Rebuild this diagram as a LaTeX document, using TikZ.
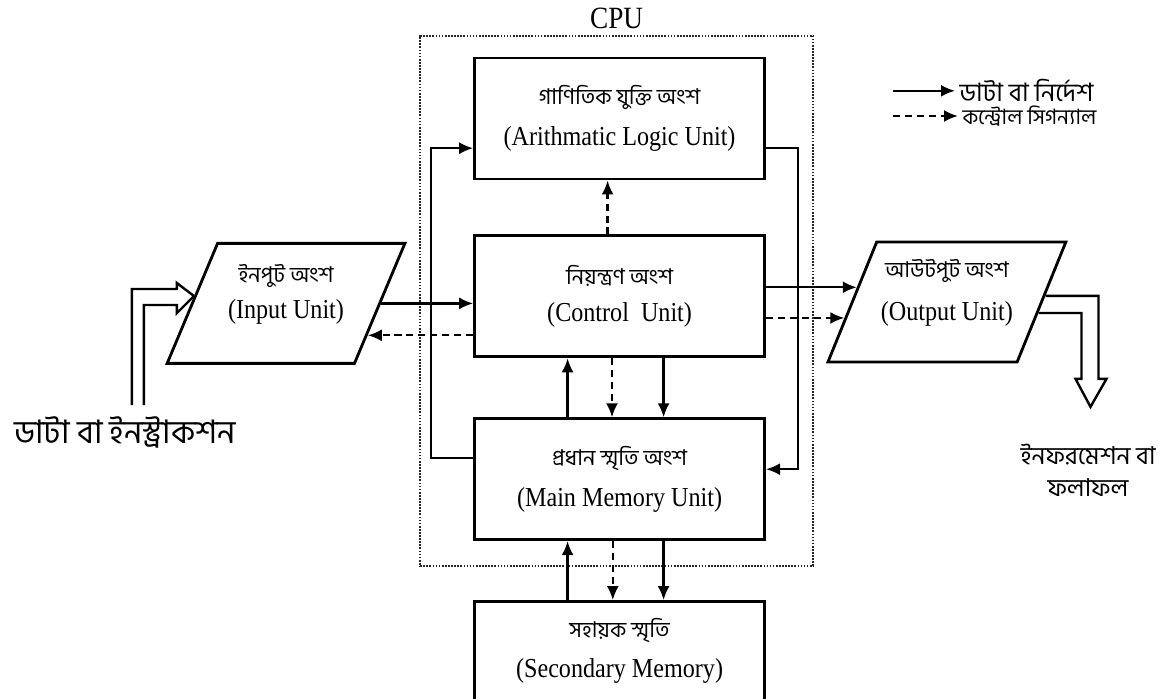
\documentclass[tikz,border=0pt]{standalone}
\usepackage{fontspec}
\setmainfont{Liberation Serif}[FakeStretch=0.88]
\newfontfamily\bn[Script=Bengali]{Hind Siliguri}
\usepackage{tikz}
\usetikzlibrary{shapes.geometric, arrows.meta, positioning, fit, calc}

\begin{document}
\begin{tikzpicture}[
  node distance=1.475cm and 2.4cm,
  box/.style={rectangle, draw=black, line width=2pt, minimum width=7.25cm,
             minimum height=3.025cm, align=center, inner sep=4pt,
             font=\fontsize{19.5}{22}\selectfont},
  iobox/.style={trapezium, trapezium left angle=62, trapezium right angle=118,
             trapezium stretches=true, draw=black, line width=2pt,
             minimum width=5.95cm, minimum height=3.0cm, align=center, inner sep=2pt,
             text depth=0.6cm, font=\fontsize{19.5}{22}\selectfont},
  cpubox/.style={draw=black!85, densely dotted, line width=1.2pt, inner sep=0pt},
  dataarrow/.style={-{Latex[length=3.5mm, width=3mm]}, line width=1.6pt},
  ctrlarrow/.style={dataarrow, dash pattern=on 5pt off 3.5pt},
  hollow/.style={line width=1.7pt, line join=miter},
  lbl/.style={font=\bn\fontsize{23}{26}\selectfont},
  legtxt/.style={font=\bn\fontsize{18}{20}\selectfont, inner sep=3pt}
]
\useasboundingbox (0,0) rectangle (28.95,-17.475);

% the four units of the CPU side
\node[box] (ctrl) at (15.49,-7.41) {%
  {\bn\fontsize{15.5}{18}\selectfont নিয়ন্ত্রণ অংশ}\\[4pt]
  (Control~ Unit)
};
\node[box, above=1.35cm of ctrl] (alu) {%
  {\bn\fontsize{15.5}{18}\selectfont গাণিতিক যুক্তি অংশ}\\[7pt]
  (Arithmatic Logic Unit)
};
\node[box, below=of ctrl] (mem) {%
  {\bn\fontsize{15.5}{18}\selectfont প্রধান স্মৃতি অংশ}\\[7pt]
  (Main Memory Unit)
};
\node[box, below=of mem, minimum height=2.475cm] (sec) {%
  {\bn\fontsize{15.5}{18}\selectfont সহায়ক স্মৃতি}\\[6pt]
  (Secondary Memory)
};
\node[iobox, left=2.3cm of ctrl, yshift=-0.175cm] (inp) {%
  {\bn\fontsize{15.5}{18}\selectfont ইনপুট অংশ}\\[4pt]
  (Input Unit)
};
\node[iobox, right=2.12cm of ctrl, yshift=-0.14cm] (out) {%
  {\bn\fontsize{15.5}{18}\selectfont আউটপুট অংশ}\\[8pt]
  (Output Unit)
};

% dotted CPU frame
\coordinate (cpuNW) at ($(alu.north west)+(-1.325,0.525)$);
\coordinate (cpuSE) at ($(mem.south east)+(1.175,-0.625)$);
\node[cpubox, fit=(cpuNW)(cpuSE),
      label={[font=\fontsize{22}{26}\selectfont, label distance=1pt]above:CPU}] (cpu) {};

% between the units
\draw[ctrlarrow] ([xshift=-0.3cm]ctrl.north) -- ([xshift=-0.3cm]alu.south);
\draw[dataarrow] ([xshift=-1.3cm]mem.north) -- ([xshift=-1.3cm]ctrl.south);
\draw[ctrlarrow] ([xshift=-0.19cm]ctrl.south) -- ([xshift=-0.19cm]mem.north);
\draw[dataarrow] ([xshift=1.1cm]ctrl.south) -- ([xshift=1.1cm]mem.north);
\draw[dataarrow] ([xshift=-1.3cm]sec.north) -- ([xshift=-1.3cm]mem.south);
\draw[ctrlarrow] ([xshift=-0.17cm]mem.south) -- ([xshift=-0.17cm]sec.north);
\draw[dataarrow] ([xshift=1.1cm]mem.south) -- ([xshift=1.1cm]sec.north);

\draw[dataarrow] ([yshift=0.525cm]mem.west) -- ++(-1.05,0) |- ([yshift=-0.74cm]alu.west);
\draw[dataarrow] ([yshift=-0.74cm]alu.east) -- ++(0.8,0) |- ([yshift=0.25cm]mem.east);

% input and output
\coordinate (inpMid) at (inp.right side);
\coordinate (inpLow) at ($(inp.bottom right corner)!0.24!(inp.top right corner)$);
\coordinate (outHigh) at ($(out.bottom left corner)!0.62!(out.top left corner)$);
\coordinate (outLow) at ($(out.bottom left corner)!0.37!(out.top left corner)$);
\draw[dataarrow] (inpMid) -- (inpMid -| ctrl.west);
\draw[ctrlarrow] (ctrl.west |- inpLow) -- (inpLow);
\draw[dataarrow] (ctrl.east |- outHigh) -- (outHigh);
\draw[ctrlarrow] (ctrl.east |- outLow) -- (outLow);

% hollow arrows
\coordinate (inTip) at ($(inp.bottom left corner)!0.56!(inp.top left corner)$);
\draw[hollow] (inTip) -- ++(-0.425,0.325) -- ++(0,-0.15) -- ++(-1.125,0) -- ++(0,-2.9);
\draw[hollow] (inTip) -- ++(-0.425,-0.425) -- ++(0,0.2) -- ++(-0.825,0) -- ++(0,-2.5);
\coordinate (outA) at ($(out.bottom right corner)!0.55!(out.top right corner)$);
\coordinate (outB) at ($(out.bottom right corner)!0.41!(out.top right corner)$);
\draw[hollow] (outA) -- ++(1.325,0) -- ++(0,-2.075) -- ++(0.2,0) -- ++(-0.4,-0.7)
  -- ++(-0.375,0.7) -- ++(0.15,0) |- (outB);

\node[lbl] (datain) at (3.125,-10.8) {ডাটা বা ইনস্ট্রাকশন};
\node[lbl, font=\bn\fontsize{17.5}{23}\selectfont, align=center] (result) at (27.2,-11.75)
  {ইনফরমেশন বা\\ফলাফল};

% legend
\node[legtxt, anchor=west] (legData) at (23.875,-2.27) {ডাটা বা নির্দেশ};
\node[legtxt, anchor=west, font=\bn\fontsize{15}{17}\selectfont] (legCtrl) at (23.95,-2.9) {কন্ট্রোল সিগন্যাল};
\coordinate (legDataStart) at (22.325,-2.27);
\coordinate (legCtrlStart) at (22.325,-2.9);
\draw[dataarrow] (legDataStart) -- (legData.west);
\draw[ctrlarrow] (legCtrlStart) -- (legCtrl.west);

\end{tikzpicture}
\end{document}
